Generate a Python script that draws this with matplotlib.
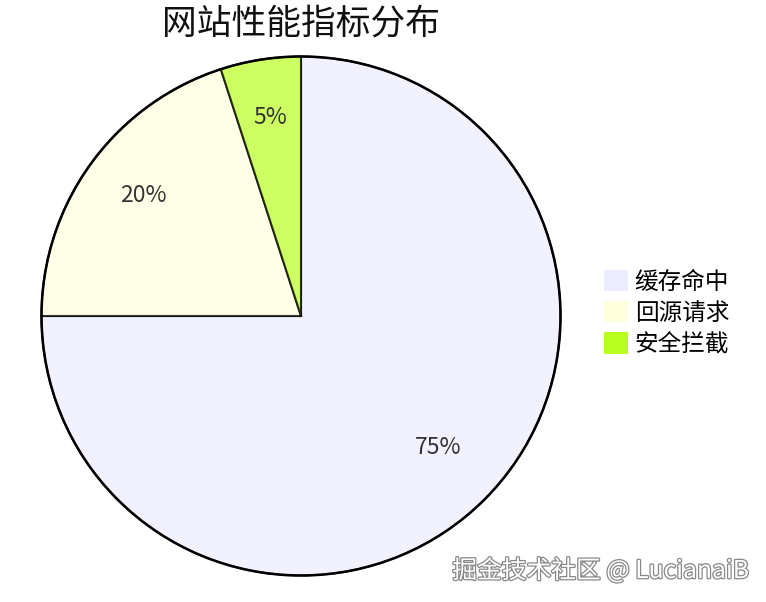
import matplotlib.pyplot as plt
import matplotlib.patheffects as pe
from matplotlib.patches import Patch

plt.rcParams['font.family'] = ['Noto Sans CJK SC', 'DejaVu Sans']

title = '网站性能指标分布'
labels = ['缓存命中', '回源请求', '安全拦截']
values = [75, 20, 5]
colors = ['#ececff', '#ffffde', '#b9ff20']

W, H = 766, 602
fig = plt.figure(figsize=(W / 100, H / 100), dpi=100)
cx, cy, r = 301, 316, 259.5
ax = fig.add_axes([(cx - r) / W, (H - cy - r) / H, 2 * r / W, 2 * r / H])

wedges, texts, autotexts = ax.pie(
    values, colors=colors, startangle=90, counterclock=False,
    autopct='%d%%', pctdistance=0.75, radius=1,
    wedgeprops=dict(edgecolor='black', linewidth=1.5, alpha=0.7),
    textprops=dict(fontsize=16.5, color='#333333'))
for w in wedges:
    w.set_clip_on(False)
for t in autotexts:
    x, y = t.get_position()
    t.set_position((x, y + 6 / r))
ax.set_xlim(-1, 1)
ax.set_ylim(-1, 1)
ax.set_aspect('equal')
ax.axis('off')

# outer ring
circle = plt.Circle((0, 0), 1, fill=False, edgecolor='black', linewidth=1.8, clip_on=False)
ax.add_patch(circle)

fig.text(301 / W, 1 - 24 / H, title, ha='center', va='center', fontsize=25, color='#111111')

handles = [Patch(facecolor=c, edgecolor='none') for c in colors]
fig.legend(handles, labels, loc='center left', bbox_to_anchor=(604 / W, 1 - 313 / H),
           frameon=False, fontsize=17, handlelength=1.0, handleheight=1.0,
           handletextpad=0.3, labelspacing=0.32, borderaxespad=0, borderpad=0)

fig.text(749 / W, 1 - 571 / H, '掘金技术社区 @ LucianaiB', ha='right', va='center',
         fontsize=17.8, color='white',
         path_effects=[pe.withStroke(linewidth=1.8, foreground='#888888')])

fig.savefig('out.png', dpi=100, facecolor='white')
